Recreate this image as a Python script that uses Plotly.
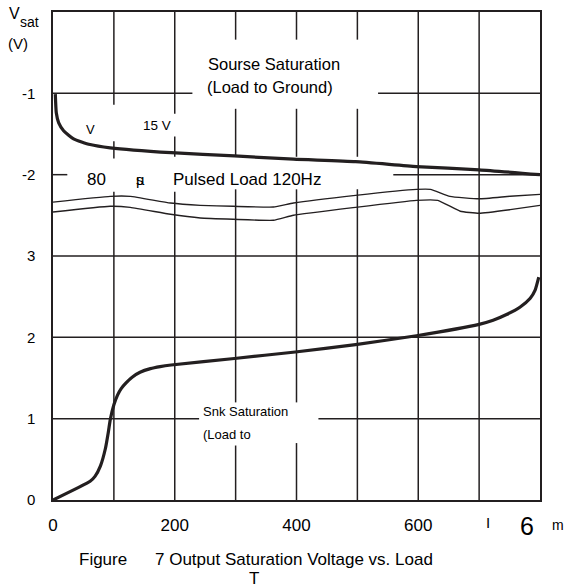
import plotly.graph_objects as go

# ---- data ----
# x: load current (mA); upper curves in "source" volts (ticks -1, -2), sink in volts (0..3)
src_x = [3.8, 5.4, 9.2, 17.4, 33.8, 61, 94, 194, 298, 395, 497, 597, 700, 800]
src_v = [-1.01, -1.24, -1.36, -1.46, -1.56, -1.63, -1.67, -1.73, -1.77, -1.81, -1.84, -1.90, -1.94, -2.0]

pul_up_x = [0, 94, 127, 193, 242, 296, 362, 395, 497, 597, 620, 652, 700, 751, 800]
pul_up_v = [-2.337, -2.267, -2.267, -2.349, -2.377, -2.389, -2.398, -2.349, -2.255, -2.181,
            -2.181, -2.267, -2.297, -2.265, -2.242]
pul_lo_x = [0, 94, 127, 193, 242, 296, 362, 395, 497, 597, 632, 669, 700, 751, 800]
pul_lo_v = [-2.459, -2.389, -2.402, -2.487, -2.532, -2.548, -2.561, -2.499, -2.402, -2.316,
            -2.316, -2.45, -2.475, -2.43, -2.377]

snk_x = [0, 61, 69, 78, 86, 91, 94, 100, 106, 112, 120, 130, 143, 160, 176, 194, 298, 398,
         497, 597, 700, 723, 745, 767, 784, 792, 798]
snk_v = [0, 0.23, 0.29, 0.42, 0.63, 0.84, 0.985, 1.17, 1.29, 1.37, 1.44, 1.51, 1.57, 1.615,
         1.64, 1.66, 1.74, 1.82, 1.91, 2.02, 2.16, 2.21, 2.28, 2.37, 2.48, 2.58, 2.74]

y_tickvals = [0, 1, 2, 3, 4, 5]
y_ticktext = ["0", "1", "2", "3", "-2", "-1"]
x_tickvals = [0, 200, 400, 600]
x_ticktext = ["0", "200", "400", "600"]

def src_pos(vals):
    return [6 + v for v in vals]

INK = "#231f20"
FONT = "Arial, Liberation Sans, sans-serif"

fig = go.Figure()
fig.add_trace(go.Scatter(x=src_x, y=src_pos(src_v), mode="lines",
                         line=dict(color=INK, width=3.2, shape="spline", smoothing=0.5),
                         hoverinfo="skip", showlegend=False))
fig.add_trace(go.Scatter(x=pul_up_x, y=src_pos(pul_up_v), mode="lines",
                         line=dict(color=INK, width=1.4, shape="spline", smoothing=0.4),
                         hoverinfo="skip", showlegend=False))
fig.add_trace(go.Scatter(x=pul_lo_x, y=src_pos(pul_lo_v), mode="lines",
                         line=dict(color=INK, width=1.4, shape="spline", smoothing=0.4),
                         hoverinfo="skip", showlegend=False))
fig.add_trace(go.Scatter(x=snk_x, y=snk_v, mode="lines",
                         line=dict(color=INK, width=3.2, shape="spline", smoothing=0.5),
                         hoverinfo="skip", showlegend=False))

# ---- broken grid lines (gaps where labels sit) ----
GW = 1.5
vgrid = {
    100: [(6, 4.86), (4.41, 4.20), (3.79, 0)],
    200: [(6, 4.75), (4.47, 4.22), (3.79, 0)],
    300: [(6, 5.66), (4.81, 4.22), (3.82, 1.20), (0.67, 0)],
    400: [(6, 5.66), (4.81, 4.22), (3.82, 1.20), (0.70, 0)],
    500: [(6, 5.66), (4.81, 4.22), (3.82, 0)],
    600: [(6, 0)],
    700: [(6, 0)],
}
hgrid = {
    5: [(0, 229), (534, 800)],
    4: [(0, 23.5), (559, 800)],
    3: [(0, 800)],
    2: [(0, 800)],
    1: [(0, 240), (436, 800)],
}
shapes = []
for xv, segs in vgrid.items():
    for a, b in segs:
        shapes.append(dict(type="line", xref="x", yref="y", x0=xv, x1=xv, y0=a, y1=b,
                           line=dict(color=INK, width=GW), layer="below"))
for yv, segs in hgrid.items():
    for a, b in segs:
        shapes.append(dict(type="line", xref="x", yref="y", x0=a, x1=b, y0=yv, y1=yv,
                           line=dict(color=INK, width=GW), layer="below"))

def ann(text, x, y, size, xanchor="center", yanchor="middle"):
    return dict(text=text, x=x, y=y, xref="paper", yref="paper", showarrow=False,
                xanchor=xanchor, yanchor=yanchor, font=dict(family=FONT, size=size, color="black"))

W, H = 565, 587
L, R, T, B = 53, 25, 10, 87
pw, ph = W - L - R, H - T - B

def px(x, y, text, size, xanchor="center"):
    return ann(text, (x - L) / pw, 1 - (y - T) / ph, size, xanchor)

annotations = [
    px(7, 12, "V", 16, "left"),
    px(18, 20, "sat", 14, "left"),
    px(6, 42, "(V)", 15, "left"),
    px(206, 62, "Sourse Saturation", 16.5, "left"),
    px(205, 85, "(Load to Ground)", 16.5, "left"),
    px(90, 128, "V", 13),
    px(157, 124, "15 V", 13.5),
    px(96, 178, "80", 17),
    px(140, 178, "µ", 15),
    px(140, 178, "s", 15),
    px(171, 178, "Pulsed Load 120Hz", 17, "left"),
    px(201, 411, "Snk Saturation", 13, "left"),
    px(201, 434, "(Load to", 13, "left"),
    px(488, 523, "I", 15),
    px(527, 526, "6", 25),
    px(558, 525, "m", 14),
    px(103, 560, "Figure", 17),
    px(153, 560, "7 Output Saturation Voltage vs. Load", 17, "left"),
    px(254, 579, "T", 17),
]

fig.update_layout(
    width=W, height=H,
    margin=dict(l=L, r=R, t=T, b=B, pad=0),
    paper_bgcolor="white", plot_bgcolor="white",
    shapes=shapes, annotations=annotations,
    font=dict(family=FONT, color="black"),
    xaxis=dict(range=[0, 800], showgrid=False, zeroline=False,
               showline=True, mirror=True, linecolor=INK, linewidth=GW,
               tickmode="array", tickvals=x_tickvals, ticktext=x_ticktext,
               ticks="", ticklabelstandoff=9, tickfont=dict(size=17, family=FONT, color="black")),
    yaxis=dict(range=[0, 6], showgrid=False, zeroline=False,
               showline=True, mirror=True, linecolor=INK, linewidth=GW,
               tickmode="array", tickvals=y_tickvals, ticktext=y_ticktext,
               ticks="", ticklabelstandoff=13, tickfont=dict(size=15, family=FONT, color="black")),
)

fig.write_html("out.html")
